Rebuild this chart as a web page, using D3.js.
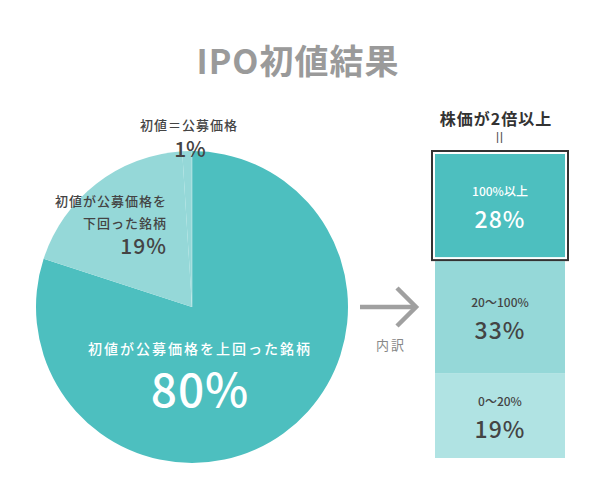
<!DOCTYPE html>
<html>
<head>
<meta charset="utf-8">
<script src="https://cdn.jsdelivr.net/npm/d3@7"></script>
<style>
  html, body { margin: 0; padding: 0; background: #fff; }
  svg { display: block; font-family: "Noto Sans CJK JP", "Noto Sans", sans-serif; }
</style>
</head>
<body>
<svg id="chart" width="600" height="503"></svg>
<script>
// ---- data ----
const chartTitle = "IPO初値結果";
const pieCategories = ["初値が公募価格を上回った銘柄", "初値が公募価格を下回った銘柄", "初値＝公募価格"];
const pieValues = [80, 19, 1];
const pieColors = ["#4dbfbf", "#95d8d8", "#95d8d8"];

const breakdownTitle = "株価が2倍以上";
const breakdownCategories = ["100%以上", "20〜100%", "0〜20%"];
const breakdownValues = [28, 33, 19];
const breakdownColors = ["#4dbfbf", "#95d8d8", "#b0e3e3"];
const arrowLabel = "内訳";

// ---- drawing ----
const svg = d3.select("#chart");

svg.append("text")
  .attr("x", 298).attr("y", 74)
  .attr("text-anchor", "middle")
  .attr("font-size", 34).attr("font-weight", 700)
  .attr("letter-spacing", 1)
  .attr("fill", "#9a9a9a")
  .text(chartTitle);

// Pie
const cx = 192, cy = 307, r = 156;
const pie = d3.pie().sort(null).value(d => d)(pieValues);
const arc = d3.arc().innerRadius(0).outerRadius(r);
const gPie = svg.append("g").attr("transform", `translate(${cx},${cy})`);
gPie.selectAll("path").data(pie).join("path")
  .attr("d", arc)
  .attr("fill", (d, i) => pieColors[i]);
gPie.append("line").attr("x1", 0).attr("y1", -r).attr("x2", 0).attr("y2", 0)
  .attr("stroke", "#ffffff").attr("stroke-opacity", 0.4).attr("stroke-width", 1);

function pct(v) { return v + "%"; }

// 80% label (inside)
svg.append("text").attr("x", 200).attr("y", 354).attr("text-anchor", "middle")
  .attr("font-size", 14).attr("font-weight", 500).attr("letter-spacing", 2)
  .attr("fill", "#fff").text(pieCategories[0]);
svg.append("text").attr("x", 200).attr("y", 407).attr("text-anchor", "middle")
  .attr("font-size", 46).attr("font-weight", 500).attr("letter-spacing", 1)
  .attr("fill", "#fff").text(pct(pieValues[0]));

// 19% label (two lines, right aligned)
const lowerLines = [pieCategories[1].slice(0, 8), pieCategories[1].slice(8)];
svg.append("text").attr("x", 167).attr("y", 206).attr("text-anchor", "end")
  .attr("font-size", 13).attr("font-weight", 500).attr("letter-spacing", 1)
  .attr("fill", "#444").text(lowerLines[0]);
svg.append("text").attr("x", 167).attr("y", 228).attr("text-anchor", "end")
  .attr("font-size", 13).attr("font-weight", 500).attr("letter-spacing", 1)
  .attr("fill", "#444").text(lowerLines[1]);
svg.append("text").attr("x", 167).attr("y", 254).attr("text-anchor", "end")
  .attr("font-size", 21).attr("font-weight", 500).attr("letter-spacing", 1)
  .attr("fill", "#444").text(pct(pieValues[1]));

// 1% label (above)
svg.append("text").attr("x", 189).attr("y", 130).attr("text-anchor", "middle")
  .attr("font-size", 13).attr("font-weight", 500).attr("letter-spacing", 1)
  .attr("fill", "#444").text(pieCategories[2]);
svg.append("text").attr("x", 190).attr("y", 157).attr("text-anchor", "middle")
  .attr("font-size", 21).attr("font-weight", 500)
  .attr("fill", "#444").text(pct(pieValues[2]));

// Arrow
const gArrow = svg.append("g").attr("stroke", "#a0a0a0").attr("stroke-width", 4.5)
  .attr("fill", "none").attr("stroke-linecap", "butt");
gArrow.append("line").attr("x1", 360).attr("y1", 307).attr("x2", 416).attr("y2", 307);
gArrow.append("polyline").attr("points", "397,288 416,307 397,326");
svg.append("text").attr("x", 391).attr("y", 350).attr("text-anchor", "middle")
  .attr("font-size", 13).attr("letter-spacing", 2).attr("font-weight", 400)
  .attr("fill", "#888").text(arrowLabel);

// Breakdown column
const colX = 435, colW = 130, colTop = 154, colBottom = 458, topGap = 4;
const sumSqrt = d3.sum(breakdownValues, v => Math.sqrt(v));
const hScale = d3.scaleSqrt().domain([0, 1]).range([0, (colBottom - colTop - topGap) / sumSqrt]);
let yPos = colTop;
const segs = breakdownValues.map((v, i) => {
  const h = hScale(v);
  const s = { y: yPos, h: h, v: v, i: i };
  yPos += h + (i === 0 ? topGap : 0);
  return s;
});

svg.append("text").attr("x", 496).attr("y", 125).attr("text-anchor", "middle")
  .attr("font-size", 16).attr("font-weight", 700).attr("letter-spacing", 1)
  .attr("fill", "#333").text(breakdownTitle);
// vertical "＝" (as in vertical Japanese text)
svg.append("text")
  .attr("transform", "translate(500,137.5) rotate(90)")
  .attr("text-anchor", "middle").attr("dominant-baseline", "central")
  .attr("font-size", 15).attr("fill", "#555").text("＝");

const gCol = svg.append("g");
gCol.selectAll("rect.seg").data(segs).join("rect").attr("class", "seg")
  .attr("x", colX).attr("y", d => d.y).attr("width", colW).attr("height", d => d.h)
  .attr("fill", d => breakdownColors[d.i]);
gCol.append("rect")
  .attr("x", colX - 3).attr("y", segs[0].y - 3)
  .attr("width", colW + 6).attr("height", segs[0].h + 6)
  .attr("fill", "none").attr("stroke", "#333").attr("stroke-width", 2);

gCol.selectAll("text.cat").data(segs).join("text").attr("class", "cat")
  .attr("x", colX + colW / 2).attr("y", d => d.y + d.h / 2 - 10)
  .attr("text-anchor", "middle").attr("font-size", 12).attr("font-weight", 500)
  .attr("fill", d => d.i === 0 ? "#fff" : "#444")
  .text(d => breakdownCategories[d.i]);
gCol.selectAll("text.val").data(segs).join("text").attr("class", "val")
  .attr("x", colX + colW / 2).attr("y", d => d.y + d.h / 2 + 22)
  .attr("text-anchor", "middle").attr("font-size", 23).attr("font-weight", 500)
  .attr("letter-spacing", 1)
  .attr("fill", d => d.i === 0 ? "#fff" : "#444")
  .text(d => pct(d.v));
</script>
</body>
</html>
